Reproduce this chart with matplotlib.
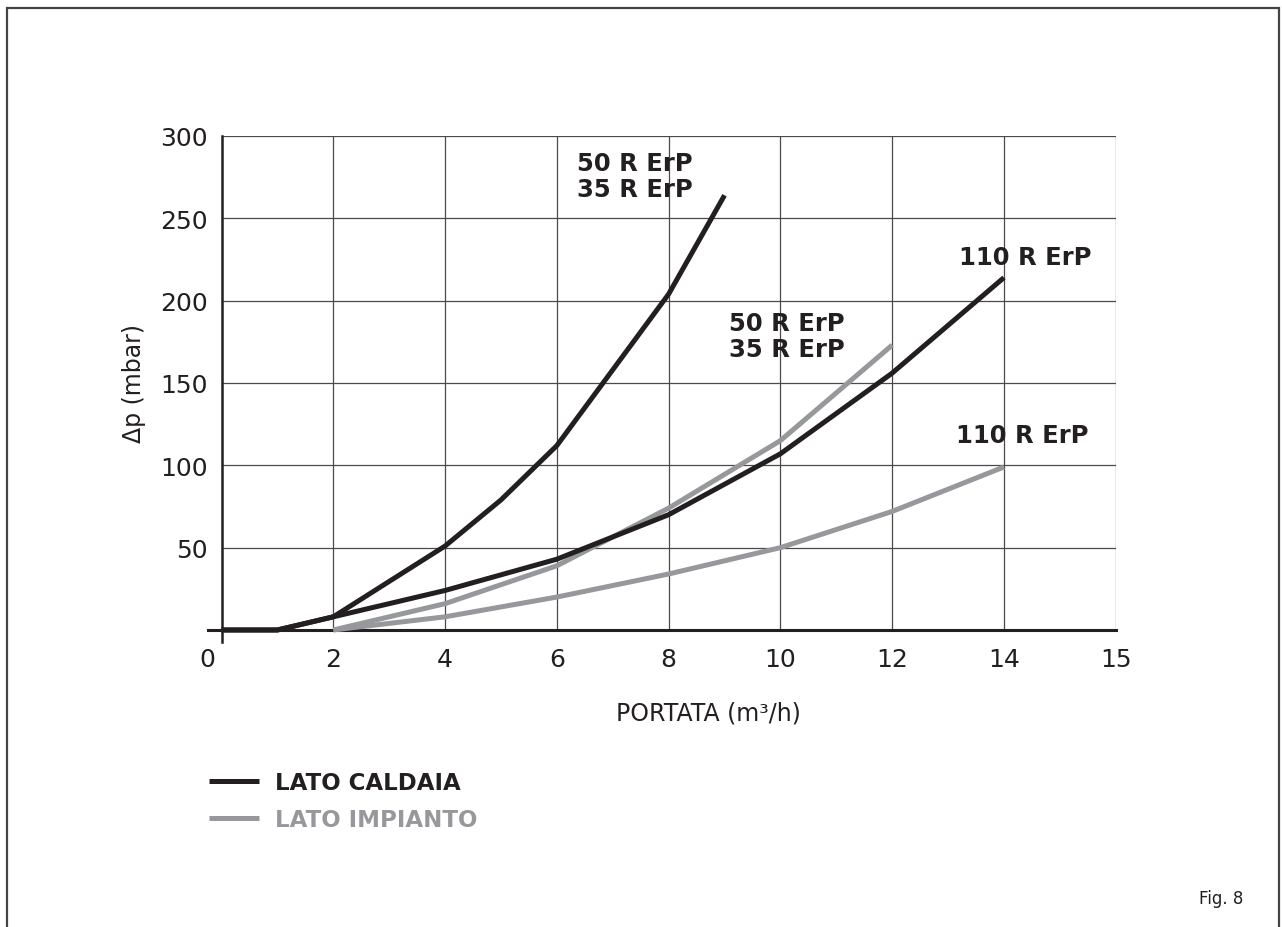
import matplotlib
matplotlib.use("Agg")
import matplotlib.pyplot as plt
import matplotlib.transforms as mtransforms
from matplotlib.patches import Rectangle
import numpy as np

# portata (m3/h) / perdita di carico (mbar)
caldaia_50_x = [0, 1, 2, 4, 5, 6, 8, 9]
caldaia_50_y = [0, 0, 8, 51, 79, 112, 204, 264]
caldaia_110_x = [0, 1, 2, 4, 6, 8, 10, 12, 14]
caldaia_110_y = [0, 0, 8, 24, 43, 70, 107, 156, 214]
impianto_50_x = [2, 4, 6, 8, 10, 12]
impianto_50_y = [0, 16, 39, 74, 115, 173]
impianto_110_x = [2, 4, 6, 8, 10, 12, 14]
impianto_110_y = [0, 8, 20, 34, 50, 72, 99]

x_ticks = [0, 2, 4, 6, 8, 10, 12, 14, 15]
y_ticks = [50, 100, 150, 200, 250, 300]

NERO = "#231f20"
GRIGIO = "#97989b"
GRID = "#4a4a4a"


# asse x: da 14 a 15 occupa lo stesso spazio di due unita'
def fwd(x):
    x = np.asarray(x, dtype=float)
    return np.where(x <= 14, x, 14 + 2 * (x - 14))


def inv(t):
    t = np.asarray(t, dtype=float)
    return np.where(t <= 14, t, 14 + (t - 14) / 2)


fig = plt.figure(figsize=(12.82, 9.28), dpi=100)
W, H = 1282, 928

# cornice
fig.add_artist(Rectangle((7 / W, -0.01), (1279 - 7) / W, 1 - 9 / H + 0.01,
                         transform=fig.transFigure, fill=False,
                         edgecolor="#444444", linewidth=1.6))

x0, x1 = 207.6, 1115.7
y0, y1 = 643.0, 137.0
ax = fig.add_axes([x0 / W, 1 - y0 / H, (x1 - x0) / W, (y0 - y1) / H])
ax.set_xscale("function", functions=(fwd, inv))
ax.set_xlim(-0.25, 15)
ax.set_ylim(-7.3, 300)

# griglia
ax.hlines(y_ticks, 0, 15, colors=GRID, linewidth=0.9, zorder=1)
ax.vlines(x_ticks[1:], 0, 300, colors=GRID, linewidth=0.9, zorder=1)

for s in ["top", "right"]:
    ax.spines[s].set_visible(False)
ax.spines["left"].set_position(("data", 0))
ax.spines["bottom"].set_position(("data", 0))
ax.spines["left"].set_linewidth(1.8)
ax.spines["bottom"].set_linewidth(2.2)
ax.spines["left"].set_color(NERO)
ax.spines["bottom"].set_color(NERO)

lw = 3.6
ax.plot(impianto_50_x, impianto_50_y, color=GRIGIO, linewidth=lw, zorder=3, solid_capstyle="butt")
ax.plot(impianto_110_x, impianto_110_y, color=GRIGIO, linewidth=lw, zorder=3, solid_capstyle="butt",
        label="LATO IMPIANTO")
ax.plot(caldaia_50_x, caldaia_50_y, color=NERO, linewidth=lw, zorder=4, solid_capstyle="butt")
ax.plot(caldaia_110_x, caldaia_110_y, color=NERO, linewidth=lw, zorder=4, solid_capstyle="butt",
        label="LATO CALDAIA")

ax.set_xticks(x_ticks)
ax.set_xticklabels([str(v) for v in x_ticks])
ax.set_yticks(y_ticks)
ax.set_yticklabels([str(v) for v in y_ticks])
ax.xaxis.set_minor_locator(matplotlib.ticker.NullLocator())
ax.tick_params(axis="both", length=0, labelsize=18, colors=NERO)
ax.tick_params(axis="x", pad=12)
ax.tick_params(axis="y", pad=10)
# lo "0" sta a sinistra dell'origine
lab0 = ax.get_xticklabels()[0]
lab0.set_transform(lab0.get_transform() + mtransforms.ScaledTranslation(-14 / 100, 0, fig.dpi_scale_trans))

ax.set_xlabel("PORTATA (m³/h)", fontsize=17, color=NERO)
ax.xaxis.set_label_coords((708.5 - x0) / (x1 - x0), (y0 - 702) / (y0 - y1))
ax.set_ylabel("Δp (mbar)", fontsize=17, color=NERO)
ax.yaxis.set_label_coords((146 - x0) / (x1 - x0), (y0 - 384) / (y0 - y1))

# etichette modelli
kw = dict(fontsize=17.5, fontweight="bold", color=NERO, va="top", ha="left",
          linespacing=1.12, zorder=5)
ax.text(6.36, 291, "50 R ErP\n35 R ErP", **kw)
ax.text(13.19, 234, "110 R ErP", **kw)
ax.text(9.08, 194, "50 R ErP\n35 R ErP", **kw)
ax.text(13.14, 126, "110 R ErP", **kw)

# legenda
leg = fig.legend(handles=[ax.lines[3], ax.lines[1]], labels=["LATO CALDAIA", "LATO IMPIANTO"],
                 loc="upper left", bbox_to_anchor=(209 / W, 1 - 772 / H),
                 frameon=False, borderpad=0, borderaxespad=0,
                 handlelength=2.2, handletextpad=0.68, labelspacing=0.6,
                 prop={"size": 16.5, "weight": "bold"})
for t, c in zip(leg.get_texts(), [NERO, GRIGIO]):
    t.set_color(c)

fig.text(1221 / W, 1 - 899 / H, "Fig. 8", fontsize=12, ha="center", va="center", color=NERO)

fig.savefig("out.png", dpi=100)
